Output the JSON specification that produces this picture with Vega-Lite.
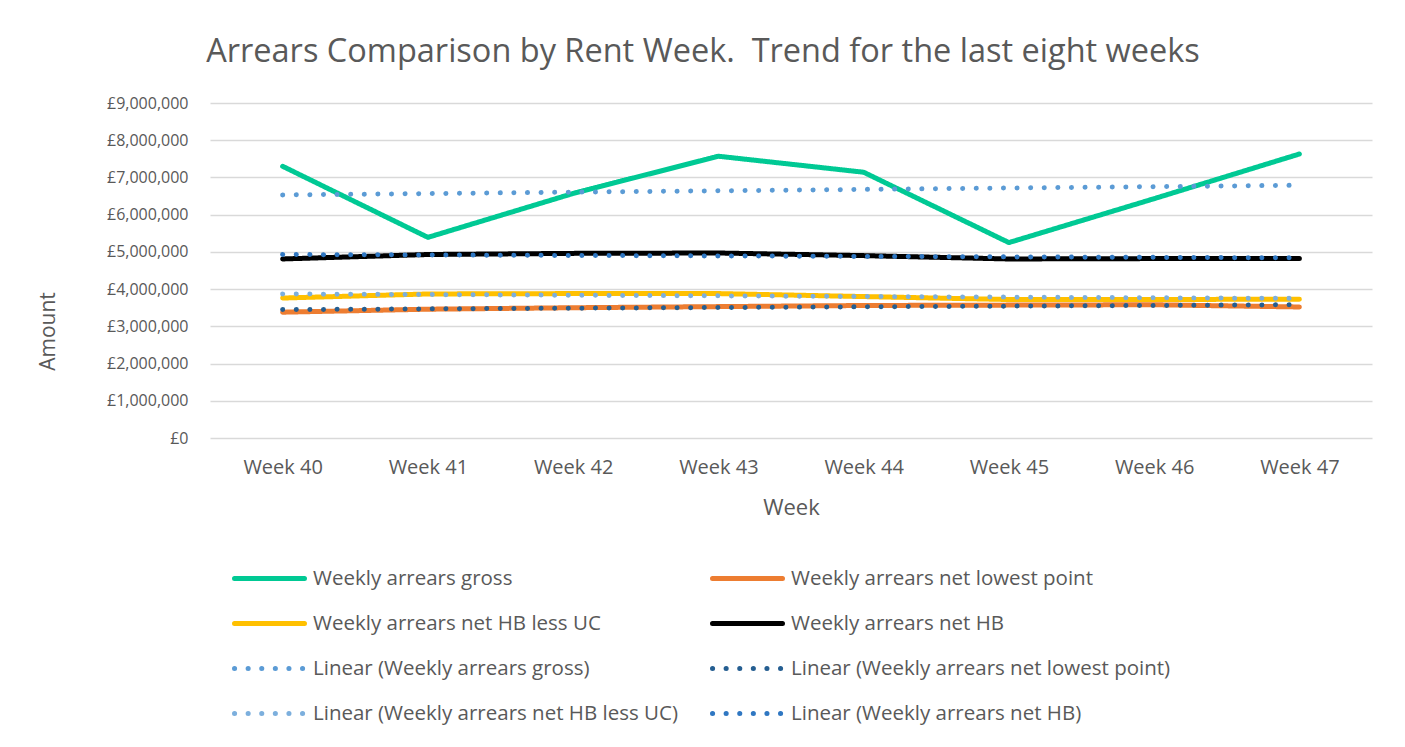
{
  "$schema": "https://vega.github.io/schema/vega-lite/v6.json",
  "width": 1162,
  "height": 335,
  "autosize": {"type": "none"},
  "padding": {"left": 210, "top": 103, "right": 33, "bottom": 309},
  "background": "white",
  "config": {
    "font": "Open Sans",
    "view": {"stroke": null},
    "legend": {"padding": 0}
  },
  "title": {
    "text": "Arrears Comparison by Rent Week.\u00a0 Trend for the last eight weeks",
    "anchor": "middle",
    "dx": -88,
    "offset": 27,
    "fontSize": 32.5,
    "fontWeight": "normal",
    "color": "#595959",
    "font": "Open Sans"
  },
  "data": {
    "values": [
      {"week": "Week 40", "series": "Weekly arrears gross", "amount": 7300000},
      {"week": "Week 41", "series": "Weekly arrears gross", "amount": 5390000},
      {"week": "Week 42", "series": "Weekly arrears gross", "amount": 6570000},
      {"week": "Week 43", "series": "Weekly arrears gross", "amount": 7570000},
      {"week": "Week 44", "series": "Weekly arrears gross", "amount": 7140000},
      {"week": "Week 45", "series": "Weekly arrears gross", "amount": 5250000},
      {"week": "Week 46", "series": "Weekly arrears gross", "amount": 6430000},
      {"week": "Week 47", "series": "Weekly arrears gross", "amount": 7630000},
      {"week": "Week 40", "series": "Weekly arrears net lowest point", "amount": 3380000},
      {"week": "Week 41", "series": "Weekly arrears net lowest point", "amount": 3460000},
      {"week": "Week 42", "series": "Weekly arrears net lowest point", "amount": 3500000},
      {"week": "Week 43", "series": "Weekly arrears net lowest point", "amount": 3530000},
      {"week": "Week 44", "series": "Weekly arrears net lowest point", "amount": 3560000},
      {"week": "Week 45", "series": "Weekly arrears net lowest point", "amount": 3570000},
      {"week": "Week 46", "series": "Weekly arrears net lowest point", "amount": 3580000},
      {"week": "Week 47", "series": "Weekly arrears net lowest point", "amount": 3520000},
      {"week": "Week 40", "series": "Weekly arrears net HB less UC", "amount": 3760000},
      {"week": "Week 41", "series": "Weekly arrears net HB less UC", "amount": 3870000},
      {"week": "Week 42", "series": "Weekly arrears net HB less UC", "amount": 3880000},
      {"week": "Week 43", "series": "Weekly arrears net HB less UC", "amount": 3880000},
      {"week": "Week 44", "series": "Weekly arrears net HB less UC", "amount": 3800000},
      {"week": "Week 45", "series": "Weekly arrears net HB less UC", "amount": 3720000},
      {"week": "Week 46", "series": "Weekly arrears net HB less UC", "amount": 3720000},
      {"week": "Week 47", "series": "Weekly arrears net HB less UC", "amount": 3730000},
      {"week": "Week 40", "series": "Weekly arrears net HB", "amount": 4810000},
      {"week": "Week 41", "series": "Weekly arrears net HB", "amount": 4930000},
      {"week": "Week 42", "series": "Weekly arrears net HB", "amount": 4960000},
      {"week": "Week 43", "series": "Weekly arrears net HB", "amount": 4970000},
      {"week": "Week 44", "series": "Weekly arrears net HB", "amount": 4900000},
      {"week": "Week 45", "series": "Weekly arrears net HB", "amount": 4810000},
      {"week": "Week 46", "series": "Weekly arrears net HB", "amount": 4820000},
      {"week": "Week 47", "series": "Weekly arrears net HB", "amount": 4820000},
      {"week": "Week 40", "series": "Linear (Weekly arrears gross)", "amount": 6530000},
      {"week": "Week 47", "series": "Linear (Weekly arrears gross)", "amount": 6790000},
      {"week": "Week 40", "series": "Linear (Weekly arrears net lowest point)", "amount": 3450000},
      {"week": "Week 47", "series": "Linear (Weekly arrears net lowest point)", "amount": 3580000},
      {"week": "Week 40", "series": "Linear (Weekly arrears net HB less UC)", "amount": 3870000},
      {"week": "Week 47", "series": "Linear (Weekly arrears net HB less UC)", "amount": 3750000},
      {"week": "Week 40", "series": "Linear (Weekly arrears net HB)", "amount": 4930000},
      {"week": "Week 47", "series": "Linear (Weekly arrears net HB)", "amount": 4840000}
    ]
  },
  "encoding": {
    "x": {
      "field": "week",
      "type": "ordinal",
      "scale": {"type": "point", "padding": 0.5, "domain": ["Week 40", "Week 41", "Week 42", "Week 43", "Week 44", "Week 45", "Week 46", "Week 47"]},
      "axis": {
        "title": "Week",
        "labelAngle": 0,
        "labelFontSize": 20,
        "labelColor": "#595959",
        "labelPadding": 19,
        "ticks": false,
        "domain": false,
        "grid": false,
        "titleFontSize": 22,
        "titleFontWeight": "normal",
        "titleColor": "#595959",
        "titlePadding": 20
      }
    },
    "y": {
      "field": "amount",
      "type": "quantitative",
      "scale": {"domain": [0, 9000000], "nice": false},
      "axis": {
        "title": "Amount",
        "values": [0, 1000000, 2000000, 3000000, 4000000, 5000000, 6000000, 7000000, 8000000, 9000000],
        "labelExpr": "'£' + format(datum.value, ',')",
        "labelFontSize": 16,
        "labelColor": "#595959",
        "labelPadding": 22,
        "ticks": false,
        "domain": false,
        "gridColor": "#D9D9D9",
        "gridWidth": 1.5,
        "titleFontSize": 21,
        "titleFontWeight": "normal",
        "titleColor": "#595959",
        "titleX": -152,
        "titleY": 228
      }
    },
    "color": {
      "field": "series",
      "type": "nominal",
      "scale": {
        "domain": ["Weekly arrears gross", "Weekly arrears net lowest point", "Weekly arrears net HB less UC", "Weekly arrears net HB", "Linear (Weekly arrears gross)", "Linear (Weekly arrears net lowest point)", "Linear (Weekly arrears net HB less UC)", "Linear (Weekly arrears net HB)"],
        "range": ["#00C994", "#ED7D31", "#FFC000", "#000000", "#5B9BD5", "#255E91", "#7CAFDD", "#2F77C2"]
      },
      "legend": {
        "title": null,
        "orient": "none",
        "direction": "horizontal",
        "legendX": 37,
        "legendY": 453,
        "columns": 2,
        "columnPadding": 24,
        "rowPadding": 12,
        "symbolType": "M-1.75,0L1.75,0",
        "symbolSize": 1600,
        "symbolStrokeWidth": 5,
        "symbolOffset": 0,
        "labelOffset": 21,
        "labelFontSize": 20.5,
        "labelColor": "#595959",
        "labelLimit": 600,
        "encode": {"symbols": {"update": {"strokeCap": {"value": "round"}}}}
      }
    },
    "strokeDash": {
      "field": "series",
      "type": "nominal",
      "scale": {
        "domain": ["Weekly arrears gross", "Weekly arrears net lowest point", "Weekly arrears net HB less UC", "Weekly arrears net HB", "Linear (Weekly arrears gross)", "Linear (Weekly arrears net lowest point)", "Linear (Weekly arrears net HB less UC)", "Linear (Weekly arrears net HB)"],
        "range": [[1, 0], [1, 0], [1, 0], [1, 0], [0.1, 13.5], [0.1, 13.5], [0.1, 13.5], [0.1, 13.5]]
      },
      "legend": null
    }
  },
  "layer": [
    {
      "transform": [{"filter": "indexof(datum.series, 'Linear') < 0"}],
      "mark": {"type": "line", "strokeWidth": 5, "strokeCap": "round", "strokeJoin": "round"}
    },
    {
      "transform": [{"filter": "indexof(datum.series, 'Linear') >= 0"}],
      "mark": {"type": "line", "strokeWidth": 5, "strokeCap": "round", "strokeJoin": "round"}
    }
  ]
}
